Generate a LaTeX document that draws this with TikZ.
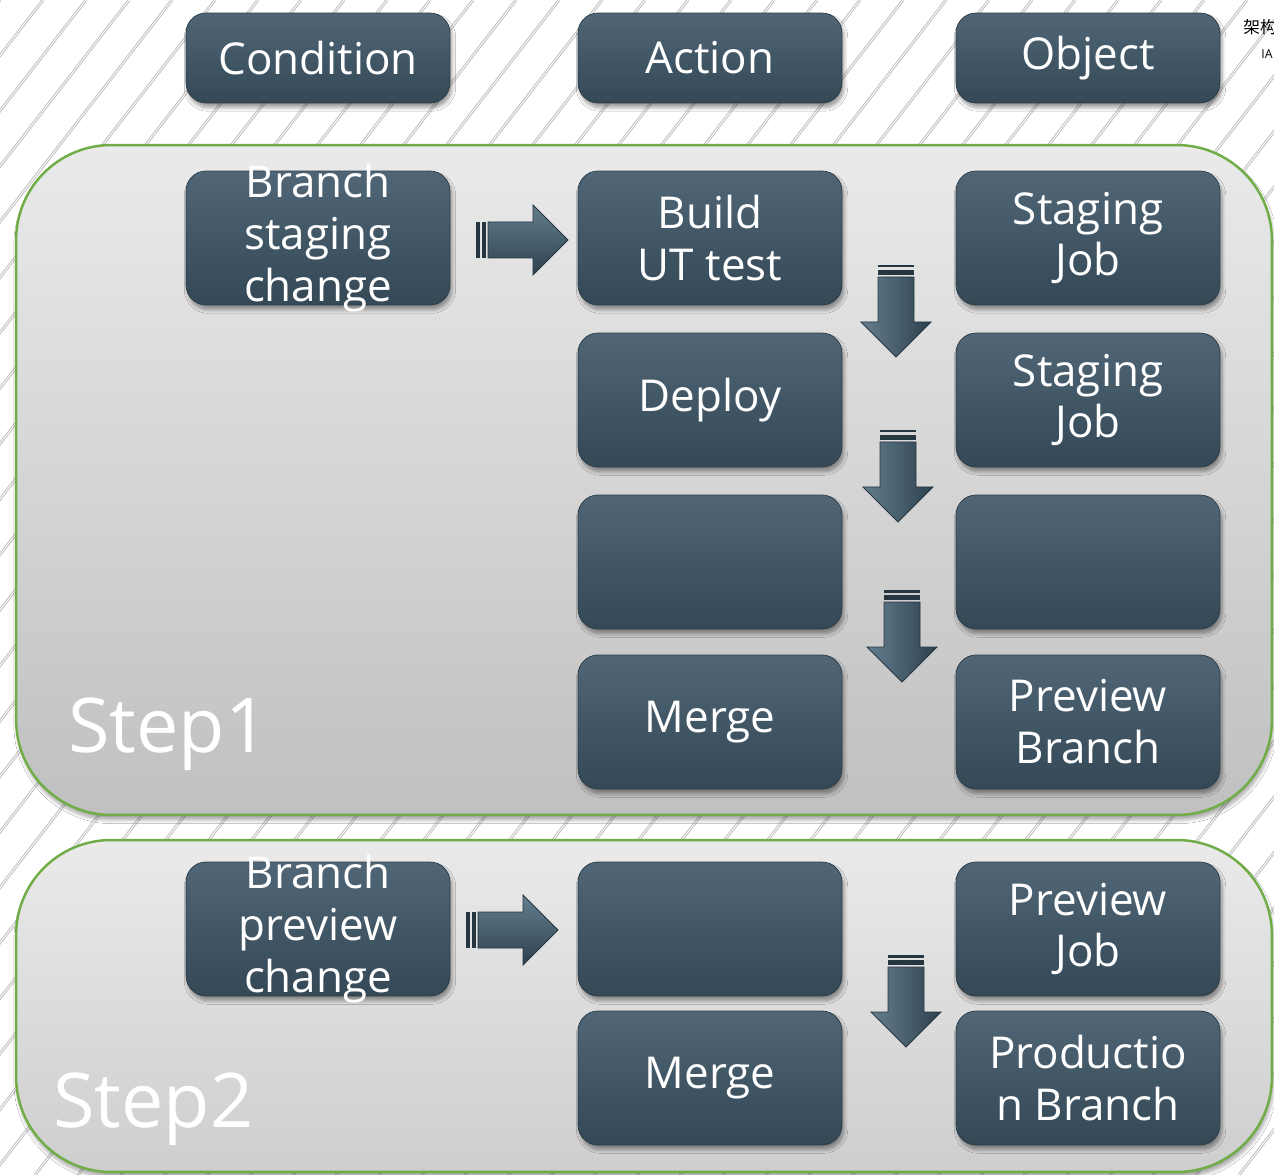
\documentclass[tikz,border=0pt]{standalone}
\usepackage{fontspec}
\setmainfont{Open Sans}
\newfontfamily\cjkfont{Noto Sans CJK SC}
\usetikzlibrary{shadows.blur}

\definecolor{boxtop}{RGB}{80,102,118}
\definecolor{boxbot}{RGB}{52,72,86}
\definecolor{panelgreen}{RGB}{112,173,71}
\definecolor{hatchc}{RGB}{190,190,190}
\definecolor{arrtop}{RGB}{100,126,142}
\definecolor{arrbot}{RGB}{45,65,78}
\definecolor{arredge}{RGB}{38,54,64}
\definecolor{paneltop}{RGB}{234,234,234}
\definecolor{panelbotA}{RGB}{192,192,192}
\definecolor{panelbotB}{RGB}{206,206,206}

\tikzset{
  box/.style={rounded corners=0.4cm, top color=boxtop, bottom color=boxbot,
    draw=boxbot!80!black, line width=0.4pt,
    minimum width=5.28cm, minimum height=2.68cm, inner sep=0pt,
    blur shadow={shadow xshift=0.04cm, shadow yshift=-0.09cm, shadow blur steps=6, shadow opacity=40}},
  headbox/.style={box, minimum height=1.8cm, text=white, font=\fontsize{25}{29.5}\selectfont},
  boxtext/.style={text=white, align=center, font=\fontsize{25}{29.5}\selectfont, inner sep=0pt},
  panel/.style={draw=panelgreen, line width=1.4pt, rounded corners=1.9cm,
    top color=paneltop, minimum width=25.12cm, inner sep=0pt,
    blur shadow={shadow xshift=0.03cm, shadow yshift=-0.1cm, shadow blur steps=6, shadow opacity=35}},
  steplabel/.style={text=white, font=\fontsize{43}{48}\selectfont, anchor=base west, inner sep=0pt},
  rarrow/.pic={
    \fill[arredge] (0,-18) rectangle (4,18);
    \fill[arredge] (6,-18) rectangle (10,18);
    \draw[arredge, line width=0.5pt, top color=arrtop, bottom color=arrbot]
      (12,-18)--(57,-18)--(57,-35)--(92,0)--(57,35)--(57,18)--(12,18)--cycle;
  },
  darrow/.pic={
    \fill[arredge] (-18,0) rectangle (18,2.5);
    \fill[arredge] (-18,5) rectangle (18,10);
    \draw[arredge, line width=0.5pt, left color=arrtop, right color=arrbot]
      (-18,12)--(-18,57)--(-35,57)--(0,92)--(35,57)--(18,57)--(18,12)--cycle;
  }
}

\begin{document}
\begin{tikzpicture}[x=0.02cm, y=-0.02cm]
\useasboundingbox (0,0) rectangle (1274,1175);
\begin{scope}
\clip (0,0) rectangle (1274,1175);
% hatched background
\fill[white] (0,0) rectangle (1274,1175);
\foreach \i in {0,...,52} {
  \draw[hatchc, line width=1.6pt] (\i*43,0) -- ++(-911,1175);
  \draw[white, line width=0.5pt] (\i*43,0) -- ++(-911,1175);
}

% corner logo text
\node[anchor=west, inner sep=0pt, font=\cjkfont\fontsize{9.5}{10}\selectfont] (logo) at (1243,27) {架构};
\node[anchor=west, inner sep=0pt, font=\fontsize{7}{8}\selectfont] (logo2) at (1261,54) {IA};

% panels
\node[panel, minimum height=13.4cm, bottom color=panelbotA] (p1) at (644,480) {};
\node[panel, minimum height=6.64cm, bottom color=panelbotB] (p2) at (644,1006) {};

% headers
\node[headbox] (hc) at (318,58) {Condition};
\node[headbox] (ha) at (710,58) {Action};
\node[headbox] (ho) at (1088,58) {Object};

% step 1
\node[box] (c1) at (318,238) {};
\node[boxtext] (c1t) at (c1) {Branch\\staging\\change};
\node[box] (a1) at (710,238) {};
\node[boxtext] (a1t) at (a1) {Build\\UT test};
\node[box] (o1) at (1088,238) {};
\node[boxtext] (o1t) at (o1) {Staging\\Job};
\node[box] (a2) at (710,400) {};
\node[boxtext] (a2t) at (a2) {Deploy};
\node[box] (o2) at (1088,400) {};
\node[boxtext] (o2t) at (o2) {Staging\\Job};
\node[box] (a3) at (710,562) {};
\node[box] (o3) at (1088,562) {};
\node[box] (a4) at (710,722) {};
\node[boxtext] (a4t) at (a4) {Merge};
\node[box] (o4) at (1088,722) {};
\node[boxtext] (o4t) at (o4) {Preview\\Branch};

% step 2
\node[box] (c5) at (318,929) {};
\node[boxtext] (c5t) at (c5) {Branch\\preview\\change};
\node[box] (a5) at (710,929) {};
\node[box] (o5) at (1088,929) {};
\node[boxtext] (o5t) at (o5) {Preview\\Job};
\node[box] (a6) at (710,1078) {};
\node[boxtext] (a6t) at (a6) {Merge};
\node[box] (o6) at (1088,1078) {};
\node[boxtext] (o6t) at (o6) {Productio\\n Branch};

% step labels
\node[steplabel] (s1) at (68,752) {Step1};
\node[steplabel] (s2) at (53,1127) {Step2};

% block arrows
\pic at (476,240) {rarrow};
\pic at (466,930) {rarrow};
\pic at (896,265) {darrow};
\pic at (898,430) {darrow};
\pic at (902,590) {darrow};
\pic at (906,955) {darrow};
\end{scope}
\end{tikzpicture}
\end{document}
